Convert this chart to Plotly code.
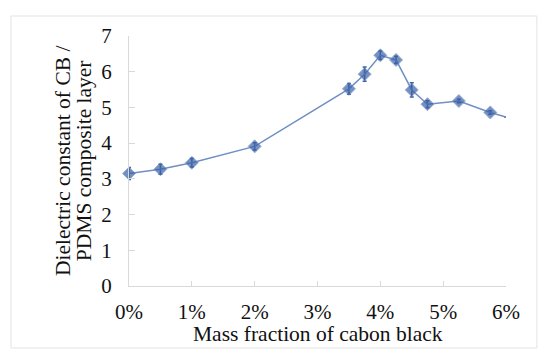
import plotly.graph_objects as go

mass_fraction = [0, 0.5, 1, 2, 3.5, 3.75, 4, 4.25, 4.5, 4.75, 5.25, 5.75, 6]
dielectric = [3.15, 3.27, 3.45, 3.91, 5.52, 5.93, 6.46, 6.33, 5.49, 5.09, 5.18, 4.86, 4.73]
errors = [0.17, 0.14, 0.12, 0.10, 0.15, 0.20, 0.12, 0.10, 0.20, 0.10, 0.05, 0.05, 0]
x_ticks = [0, 1, 2, 3, 4, 5, 6]
x_tick_labels = ["0%", "1%", "2%", "3%", "4%", "5%", "6%"]
y_ticks = [0, 1, 2, 3, 4, 5, 6, 7]

marker_sizes = [10] * (len(mass_fraction) - 1) + [0]

fig = go.Figure()
fig.add_trace(go.Scatter(
    x=mass_fraction, y=dielectric,
    mode="lines+markers",
    line=dict(color="#6f8fc4", width=1.5),
    marker=dict(symbol="diamond", size=marker_sizes, color="#3b62a6"),
    error_y=dict(type="data", array=errors, visible=True, color="#3b62a6", thickness=1.5, width=2),
    cliponaxis=False,
    showlegend=False,
))

font_family = "Liberation Serif, Times New Roman, serif"
fig.update_layout(
    width=550, height=362,
    margin=dict(l=121, r=52, t=28, b=84),
    paper_bgcolor="white", plot_bgcolor="white",
    font=dict(family=font_family, size=21, color="#111111"),
    xaxis=dict(range=[0, 6], tickvals=x_ticks, ticktext=x_tick_labels,
               showgrid=False, zeroline=False, showline=True, linecolor="#d9d9d9", linewidth=1,
               ticks="inside", ticklen=5, tickcolor="#d9d9d9", tickfont=dict(size=21),
               ticklabelstandoff=7),
    yaxis=dict(range=[0, 7], tickvals=y_ticks,
               showgrid=False, zeroline=False, showline=True, linecolor="#d9d9d9", linewidth=1,
               ticks="inside", ticklen=6, tickcolor="#d9d9d9", tickfont=dict(size=21),
               ticklabelstandoff=12),
    annotations=[
        dict(text="Mass fraction of cabon black", xref="paper", yref="paper",
             x=0.5, y=-0.19, xanchor="center", yanchor="middle", showarrow=False,
             font=dict(size=21.5)),
        dict(text="Dielectric constant of CB /", xref="paper", yref="paper",
             x=-0.175, y=0.5, xanchor="center", yanchor="middle", showarrow=False,
             textangle=-90, font=dict(size=21.5)),
        dict(text="PDMS composite layer", xref="paper", yref="paper",
             x=-0.119, y=0.5, xanchor="center", yanchor="middle", showarrow=False,
             textangle=-90, font=dict(size=21.5)),
    ],
    shapes=[dict(type="rect", xref="paper", yref="paper",
                 x0=-0.313, x1=1.082, y0=-0.248, y1=1.08,
                 line=dict(color="#e3e3e3", width=1), layer="below")],
)

fig.write_html("out.html")
